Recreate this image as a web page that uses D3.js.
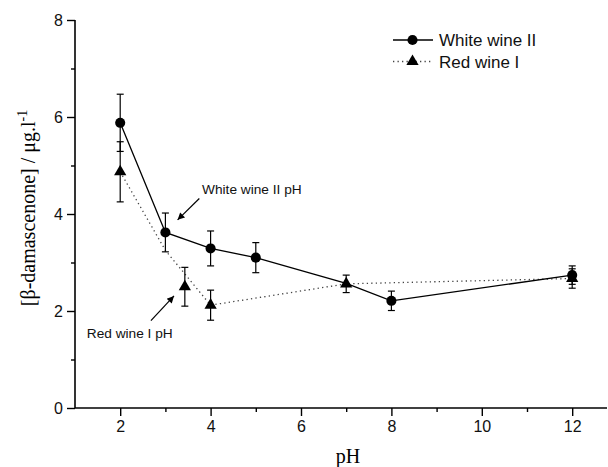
<!DOCTYPE html>
<html><head><meta charset="utf-8">
<script src="https://cdn.jsdelivr.net/npm/d3@7"></script>
<style>
html,body{margin:0;padding:0;background:#fff;}
svg{display:block;}
</style></head>
<body>
<svg id="chart" width="608" height="467"></svg>
<script>
// ---- data ----
const whitePH   = [2, 3, 4, 5, 7, 8, 12];
const whiteVal  = [5.88, 3.62, 3.29, 3.10, 2.57, 2.21, 2.74];
const whiteErr  = [0.59, 0.40, 0.36, 0.31, 0, 0.20, 0.19];
const whiteMark = [true, true, true, true, false, true, true];

const redPH   = [2, 3, 4, 7, 12];
const redVal  = [4.87, 3.25, 2.12, 2.56, 2.67];
const redErr  = [0.62, 0, 0.31, 0.18, 0.20];
const redMark = [true, false, true, true, true];

// wine natural pH points (not connected)
const redNatPH = [3.43];
const redNatVal = [2.50];
const redNatErr = [0.40];

const xTicks = [2, 4, 6, 8, 10, 12];
const xMinor = [3, 5, 7, 9, 11];
const yTicks = [0, 2, 4, 6, 8];
const yMinor = [1, 3, 5, 7];

const seriesNames = ["White wine II", "Red wine I"];
const annotations = [
  {text: "White wine II pH", tx: 3.81, ty: 4.41, ax1: 3.75, ay1: 4.32, ax2: 3.27, ay2: 3.88},
  {text: "Red wine I pH",    tx: 1.26, ty: 1.44, ax1: 2.68, ay1: 1.80, ax2: 3.19, ay2: 2.31}
];

// ---- drawing ----
const svg = d3.select("#chart");
const x = d3.scaleLinear().domain([1, 12.77]).range([75, 607]);
const y = d3.scaleLinear().domain([0, 8]).range([408, 20]);
const sans = "'Liberation Sans', Arial, sans-serif";
const serif = "'Liberation Serif', 'Times New Roman', serif";

// axes
const xAxis = svg.append("g").attr("transform", `translate(0,${y(0)})`)
  .call(d3.axisBottom(x).tickValues(xTicks).tickSize(8).tickPadding(5).tickFormat(d3.format("d")));
svg.append("g").attr("transform", `translate(0,${y(0)})`)
  .call(d3.axisBottom(x).tickValues(xMinor).tickSize(4).tickFormat(""))
  .select(".domain").remove();
const yAxis = svg.append("g").attr("transform", `translate(${x(1)},0)`)
  .call(d3.axisLeft(y).tickValues(yTicks).tickSize(8).tickPadding(4).tickFormat(d3.format("d")));
svg.append("g").attr("transform", `translate(${x(1)},0)`)
  .call(d3.axisLeft(y).tickValues(yMinor).tickSize(4).tickFormat(""))
  .select(".domain").remove();
svg.selectAll(".domain").attr("stroke", "#000").attr("stroke-width", 1.6);
svg.selectAll(".tick line").attr("stroke", "#000").attr("stroke-width", 1.4);
svg.selectAll(".tick text").attr("font-family", sans).attr("font-size", 16).attr("fill", "#111");
xAxis.selectAll(".domain").attr("d", `M${x(1)},0H607`);
yAxis.selectAll(".domain").attr("d", `M0,${y(0)}V${y(8)}`);

// axis titles
svg.append("text").attr("x", 348).attr("y", 463).attr("text-anchor", "middle")
  .attr("font-family", serif).attr("font-size", 20).text("pH");
const yt = svg.append("text").attr("transform", "translate(35,208) rotate(-90)")
  .attr("text-anchor", "middle").attr("font-family", serif).attr("font-size", 20);
yt.append("tspan").text("[β-damascenone] / μg.l");
yt.append("tspan").attr("dy", -8).attr("font-size", 14).text("-1");

// lines
const wData = whitePH.map((p, i) => ({p, v: whiteVal[i], e: whiteErr[i], m: whiteMark[i]}));
const rData = redPH.map((p, i) => ({p, v: redVal[i], e: redErr[i], m: redMark[i]}));
const nData = redNatPH.map((p, i) => ({p, v: redNatVal[i], e: redNatErr[i], m: true}));
const line = d3.line().x(d => x(d.p)).y(d => y(d.v));

svg.append("path").datum(rData).attr("d", line).attr("fill", "none")
  .attr("stroke", "#444").attr("stroke-width", 1.3).attr("stroke-dasharray", "1.3,3.2");
svg.append("path").datum(wData).attr("d", line).attr("fill", "none")
  .attr("stroke", "#000").attr("stroke-width", 1.3);

// error bars
function errBars(data) {
  const g = svg.append("g").attr("stroke", "#000").attr("stroke-width", 1.2);
  data.filter(d => d.e > 0).forEach(d => {
    const cx = x(d.p), t = y(d.v + d.e), b = y(d.v - d.e);
    g.append("line").attr("x1", cx).attr("x2", cx).attr("y1", t).attr("y2", b);
    g.append("line").attr("x1", cx - 3.5).attr("x2", cx + 3.5).attr("y1", t).attr("y2", t);
    g.append("line").attr("x1", cx - 3.5).attr("x2", cx + 3.5).attr("y1", b).attr("y2", b);
  });
}
errBars(wData); errBars(rData); errBars(nData);

const circ = d3.symbol().type(d3.symbolCircle).size(80);
const tri = d3.symbol().type(d3.symbolTriangle).size(65);
function marks(data, sym) {
  svg.append("g").selectAll("path").data(data.filter(d => d.m)).join("path")
    .attr("transform", d => `translate(${x(d.p)},${y(d.v)})`)
    .attr("d", sym).attr("fill", "#000");
}
marks(wData, circ); marks(rData, tri); marks(nData, tri);

// annotations
svg.append("defs").append("marker").attr("id", "ah").attr("viewBox", "0 0 10 10")
  .attr("refX", 10).attr("refY", 5).attr("markerWidth", 9).attr("markerHeight", 7)
  .attr("markerUnits", "userSpaceOnUse").attr("orient", "auto")
  .append("path").attr("d", "M0,0L10,5L0,10Z").attr("fill", "#000");
annotations.forEach(a => {
  svg.append("text").attr("x", x(a.tx)).attr("y", y(a.ty)).attr("font-family", sans)
    .attr("font-size", 13.7).attr("fill", "#111").text(a.text);
  svg.append("line").attr("x1", x(a.ax1)).attr("y1", y(a.ay1)).attr("x2", x(a.ax2)).attr("y2", y(a.ay2))
    .attr("stroke", "#000").attr("stroke-width", 1.2).attr("marker-end", "url(#ah)");
});

// legend
const lg = svg.append("g");
seriesNames.forEach((name, i) => {
  const cy = 40 + i * 21.5;
  lg.append("line").attr("x1", 393).attr("x2", 433).attr("y1", cy).attr("y2", cy)
    .attr("stroke", i === 0 ? "#000" : "#444").attr("stroke-width", 1.3)
    .attr("stroke-dasharray", i === 0 ? null : "1.3,3.2");
  lg.append("path").attr("transform", `translate(412.5,${cy})`)
    .attr("d", i === 0 ? circ : tri).attr("fill", "#000");
  lg.append("text").attr("x", 439).attr("y", cy + 6).attr("font-family", sans)
    .attr("font-size", 17).attr("fill", "#111").text(name);
});
</script>
</body></html>
